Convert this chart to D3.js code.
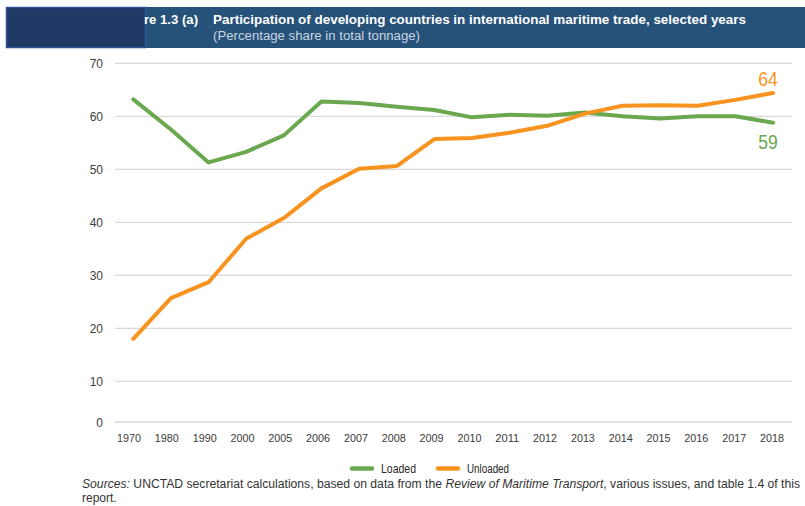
<!DOCTYPE html>
<html>
<head>
<meta charset="utf-8">
<script src="https://cdn.jsdelivr.net/npm/d3@7"></script>
<style>
  html, body { margin: 0; padding: 0; background: #fff; }
  svg { display: block; }
</style>
</head>
<body>
<svg id="chart" width="805" height="506"></svg>
<script>
const years = ["1970","1980","1990","2000","2005","2006","2007","2008","2009","2010","2011","2012","2013","2014","2015","2016","2017","2018"];
const loaded = [63.2, 57.5, 51.3, 53.3, 56.4, 62.8, 62.5, 61.8, 61.2, 59.8, 60.3, 60.1, 60.7, 60.0, 59.6, 60.0, 60.0, 58.8];
const unloaded = [18.0, 25.7, 28.7, 36.9, 40.8, 46.4, 50.1, 50.6, 55.7, 55.9, 56.9, 58.2, 60.5, 62.0, 62.1, 62.0, 63.1, 64.4];
const yTicks = [0, 10, 20, 30, 40, 50, 60, 70];
const seriesNames = ["Loaded", "Unloaded"];
const endLabels = ["59", "64"];
const titleText = "Participation of developing countries in international maritime trade, selected years";
const subtitleText = "(Percentage share in total tonnage)";
const figureLabel = "re 1.3 (a)";

const colors = { Loaded: "#6aa84f", Unloaded: "#f7931e" };
const sans = "'Liberation Sans', Arial, Helvetica, sans-serif";

const svg = d3.select("#chart");

// Header band
svg.append("rect").attr("x", 6).attr("y", 7).attr("width", 799).attr("height", 41).attr("fill", "#26527a");
svg.append("rect").attr("x", 6.5).attr("y", 7.5).attr("width", 139).attr("height", 40)
  .attr("fill", "#1f3864").attr("stroke", "#2f5597").attr("stroke-width", 1.5);
svg.append("text").attr("x", 144).attr("y", 24.3).attr("fill", "#ffffff")
  .attr("font-family", sans).attr("font-weight", "bold").attr("font-size", 13.5)
  .attr("textLength", 54).attr("lengthAdjust", "spacingAndGlyphs").text(figureLabel);
svg.append("text").attr("x", 213).attr("y", 24.3).attr("fill", "#ffffff")
  .attr("font-family", sans).attr("font-weight", "bold").attr("font-size", 13.5)
  .attr("textLength", 533).attr("lengthAdjust", "spacingAndGlyphs").text(titleText);
svg.append("text").attr("x", 213).attr("y", 40).attr("fill", "#c9d6e3")
  .attr("font-family", sans).attr("font-size", 12.5)
  .attr("textLength", 207).attr("lengthAdjust", "spacingAndGlyphs").text(subtitleText);

// Scales
const y = d3.scaleLinear().domain([0, 10, 70]).range([422, 381.3, 63.3]);
const xLine = d3.scalePoint().domain(years).range([133.3, 773]);
const xAxisScale = d3.scalePoint().domain(years).range([128.5, 771.5]);

// Gridlines
const grid = svg.append("g");
grid.selectAll("line").data(yTicks).join("line")
  .attr("x1", 115).attr("x2", 792)
  .attr("y1", d => y(d)).attr("y2", d => y(d))
  .attr("stroke", "#d9d9d9").attr("stroke-width", 1.3);

// Y axis labels
const yAxis = d3.axisLeft(y).tickValues(yTicks).tickSize(0).tickPadding(0);
const yg = svg.append("g").attr("transform", "translate(103,0)").call(yAxis);
yg.select(".domain").remove();
yg.selectAll("text").attr("font-family", sans).attr("font-size", 12).attr("fill", "#404040").attr("dy", "0.35em");

// X axis labels
const xAxis = d3.axisBottom(xAxisScale).tickSize(0).tickPadding(0);
const xg = svg.append("g").attr("transform", "translate(0,434)").call(xAxis);
xg.select(".domain").remove();
xg.selectAll("text").attr("font-family", sans).attr("font-size", 11.5).attr("fill", "#3a3a3a")
  .attr("dy", "0.71em").attr("textLength", 24).attr("lengthAdjust", "spacingAndGlyphs");

// Lines
const line = d3.line().x((d, i) => xLine(years[i])).y(d => y(d));
const series = [{ name: "Loaded", values: loaded }, { name: "Unloaded", values: unloaded }];
svg.append("g").selectAll("path").data(series).join("path")
  .attr("d", d => line(d.values))
  .attr("fill", "none")
  .attr("stroke", d => colors[d.name])
  .attr("stroke-width", 4)
  .attr("stroke-linejoin", "round")
  .attr("stroke-linecap", "round");

// End labels
const last = years[years.length - 1];
svg.append("text").attr("x", xLine(last) - 5).attr("y", y(loaded[loaded.length - 1]) + 26.5)
  .attr("text-anchor", "middle").attr("font-family", sans).attr("font-size", 20.5)
  .attr("textLength", 19.5).attr("lengthAdjust", "spacingAndGlyphs")
  .attr("fill", colors.Loaded).text(endLabels[0]);
svg.append("text").attr("x", xLine(last) - 5).attr("y", y(unloaded[unloaded.length - 1]) - 6.5)
  .attr("text-anchor", "middle").attr("font-family", sans).attr("font-size", 20.5)
  .attr("textLength", 19.5).attr("lengthAdjust", "spacingAndGlyphs")
  .attr("fill", colors.Unloaded).text(endLabels[1]);

// Legend
const legendX = [350, 436];
const legendW = [35, 42];
const lg = svg.append("g");
seriesNames.forEach((name, i) => {
  lg.append("line").attr("x1", legendX[i] + 2).attr("x2", legendX[i] + 22)
    .attr("y1", 468.5).attr("y2", 468.5)
    .attr("stroke", colors[name]).attr("stroke-width", 4.5).attr("stroke-linecap", "round");
  lg.append("text").attr("x", legendX[i] + 31).attr("y", 473)
    .attr("font-family", sans).attr("font-size", 12.5).attr("fill", "#262626")
    .attr("textLength", legendW[i]).attr("lengthAdjust", "spacingAndGlyphs").text(name);
});

// Sources
const src = svg.append("text").attr("x", 82).attr("y", 488)
  .attr("font-family", sans).attr("font-size", 12).attr("fill", "#333333")
  .attr("textLength", 718).attr("lengthAdjust", "spacingAndGlyphs");
src.append("tspan").attr("font-style", "italic").text("Sources:");
src.append("tspan").text(" UNCTAD secretariat calculations, based on data from the ");
src.append("tspan").attr("font-style", "italic").text("Review of Maritime Transport");
src.append("tspan").text(", various issues, and table 1.4 of this");
svg.append("text").attr("x", 82).attr("y", 502)
  .attr("font-family", sans).attr("font-size", 12).attr("fill", "#333333").text("report.");
</script>
</body>
</html>
